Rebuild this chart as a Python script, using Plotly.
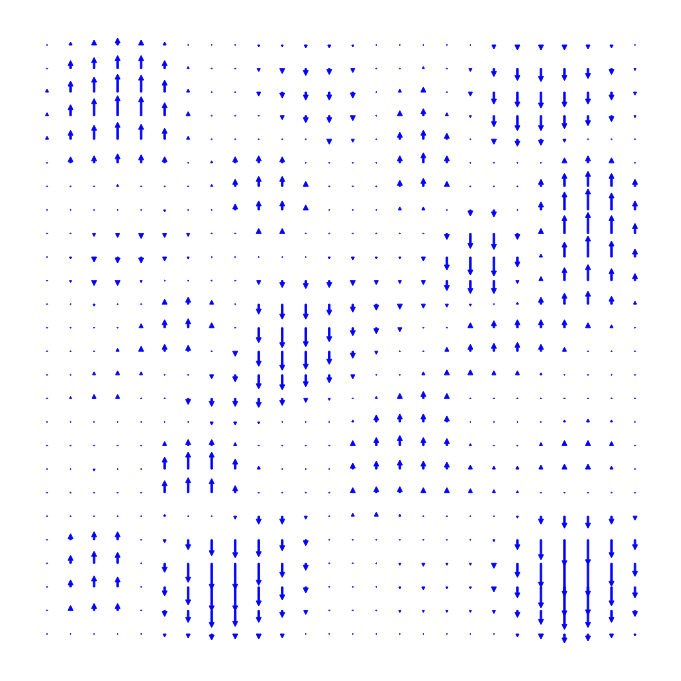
import plotly.graph_objects as go

# grid (columns left->right, rows top->bottom)
x_grid = list(range(26))
y_grid = list(range(25, -1, -1))

# vertical component of each vector (horizontal component is zero), one list per row, top row first
v_rows = [
    [0, 3, 5, 7, 5, 3, 0, 0, 0, -2, -2, -3, -3, -2, 0, 0, 0, 0, -1, -4, -5, -5, -5, -4, -3, -1],
    [1, 8, 11, 13, 13, 8, 2, 0, 0, -3, -5, -7, -6, -4, 0, 1, 2, 0, -3, -8, -12, -13, -12, -10, -6, -2],
    [3, 11, 15, 18, 17, 12, 3, 0, 0, -4, -6, -8, -8, -6, 0, 3, 5, 0, -4, -12, -15, -16, -15, -12, -8, -3],
    [3, 11, 17, 20, 19, 13, 4, 0, 0, -1, -4, -7, -7, -5, 0, 5, 7, 3, -2, -11, -15, -15, -13, -10, -6, -2],
    [3, 9, 14, 17, 15, 11, 3, 0, 0, 1, 0, -1, -5, -3, 0, 7, 9, 6, 0, -5, -7, -6, -3, -1, 0, 0],
    [0, 6, 7, 9, 8, 6, 0, 2, 6, 7, 6, 1, 0, -1, 0, 7, 10, 7, 0, 0, 0, 0, 5, 7, 5, 1],
    [0, 1, 1, 2, 0, 0, 0, 2, 7, 10, 10, 5, 0, 0, 0, 6, 8, 5, 0, 0, 0, 7, 13, 15, 13, 7],
    [0, 0, 0, 0, 0, -2, 0, 0, 6, 9, 9, 5, 0, 0, 0, 3, 3, 0, -6, -7, 0, 8, 18, 21, 17, 9],
    [0, -1, -3, -4, -5, -4, -3, 0, 1, 5, 5, 1, 0, -1, 0, 0, 0, -6, -15, -16, -6, 5, 18, 21, 18, 10],
    [0, -2, -5, -6, -6, -4, -2, -1, 0, 0, 0, -1, -2, -3, -2, -2, -4, -13, -18, -19, -10, 3, 15, 21, 16, 8],
    [0, -2, -5, -5, -2, 0, 0, 0, 0, -4, -7, -8, -7, -5, -4, -3, -4, -10, -13, -13, -3, 4, 13, 16, 12, 7],
    [0, -1, -2, -1, 0, 5, 7, 4, 0, -10, -15, -15, -11, -8, -6, -5, -4, -3, -2, -1, 2, 7, 11, 13, 8, 3],
    [0, 0, 0, 0, 4, 8, 9, 5, -1, -15, -20, -19, -14, -8, -6, -4, -1, 0, 5, 7, 8, 8, 8, 5, 3, 0],
    [0, 0, 0, 3, 5, 7, 6, 0, -5, -15, -19, -18, -13, -7, -3, 0, 0, 4, 7, 8, 9, 7, 4, 1, 0, 0],
    [0, 1, 3, 4, 3, 1, 0, -4, -7, -14, -15, -12, -8, -4, -1, 0, 3, 5, 5, 4, 4, 2, 0, 0, 0, 0],
    [0, 2, 4, 4, 0, -1, -6, -8, -8, -9, -7, -4, -2, -1, 2, 5, 7, 5, 1, 0, 0, 0, 0, 0, 0, 0],
    [0, 1, 1, 1, 0, 0, -1, -3, -3, -2, -1, 0, 0, 2, 7, 8, 8, 6, 0, 0, 0, 0, 2, 3, 2, 0],
    [0, 0, 0, 0, 0, 4, 6, 6, 3, 0, 0, 0, 1, 5, 8, 10, 8, 7, 2, 0, 0, 3, 5, 5, 4, 1],
    [0, -1, -2, -1, 1, 12, 17, 17, 10, 3, 0, 0, 1, 6, 8, 9, 8, 7, 4, 3, 3, 4, 5, 5, 3, 1],
    [0, -1, -1, 0, 1, 12, 15, 14, 7, 0, -1, 0, 1, 5, 6, 6, 5, 5, 4, 3, 2, 1, 0, 0, 0, 0],
    [0, 0, 0, 0, 0, 2, 0, 0, -3, -8, -8, -3, 0, 3, 4, 2, 1, 1, 1, 0, -2, -8, -12, -12, -8, -4],
    [0, 6, 8, 8, 0, -3, -10, -16, -18, -17, -11, -6, 0, 0, 0, 0, -1, 0, -1, -2, -10, -20, -26, -25, -18, -10],
    [1, 8, 12, 11, 0, -9, -19, -26, -26, -22, -14, -7, 0, 0, 0, -2, -3, -2, -2, -5, -14, -24, -33, -33, -23, -13],
    [1, 7, 11, 10, 0, -9, -18, -24, -24, -19, -13, -6, 0, 0, 0, -2, -3, -2, -2, -5, -11, -21, -29, -28, -19, -11],
    [0, 5, 7, 7, 0, -6, -12, -17, -16, -12, -7, -4, 0, 0, 0, -2, -2, -2, -2, -3, -7, -14, -19, -17, -12, -6],
    [0, 0, 1, 1, 0, -3, -4, -6, -5, -5, -4, -1, 0, 0, 0, 0, 0, 0, -1, -1, -3, -5, -9, -7, -4, -2],
]

W = H = 681
X_RANGE = [-2.0, 26.955]
Y_RANGE = [-1.995, 26.91]
px_x = W / (X_RANGE[1] - X_RANGE[0])
px_y = H / (Y_RANGE[1] - Y_RANGE[0])

SW, HW, HL = 1.5, 5.0, 5.0   # shaft width, head width, head length (px)

xs, ys = [], []
for j, row in enumerate(v_rows):
    for i, v in enumerate(row):
        x0, y0 = x_grid[i], y_grid[j]
        L = abs(v)
        d = 1 if v >= 0 else -1
        if L < 1.6:
            r = 0.6
            pts = [(0, r), (r, 0), (0, -r), (-r, 0)]
        elif L < HL:
            s = L / HL
            pts = [(-HW * s / 2, 0), (0, L * d), (HW * s / 2, 0)]
        else:
            b = (L - HL) * d
            pts = [(-SW / 2, 0), (-SW / 2, b), (-HW / 2, b), (0, L * d),
                   (HW / 2, b), (SW / 2, b), (SW / 2, 0)]
        pts = pts + [pts[0]]
        for dx, dy in pts:
            xs.append(x0 + dx / px_x)
            ys.append(y0 + dy / px_y)
        xs.append(None)
        ys.append(None)

fig = go.Figure(go.Scatter(
    x=xs, y=ys, mode="lines", fill="toself",
    fillcolor="#0000ff", line=dict(color="#0000ff", width=0.9),
    hoverinfo="skip", showlegend=False,
))
fig.update_layout(
    width=W, height=H, margin=dict(l=0, r=0, t=0, b=0),
    paper_bgcolor="white", plot_bgcolor="white",
    xaxis=dict(range=X_RANGE, visible=False, fixedrange=True),
    yaxis=dict(range=Y_RANGE, visible=False, fixedrange=True),
)
fig.write_html("out.html")
